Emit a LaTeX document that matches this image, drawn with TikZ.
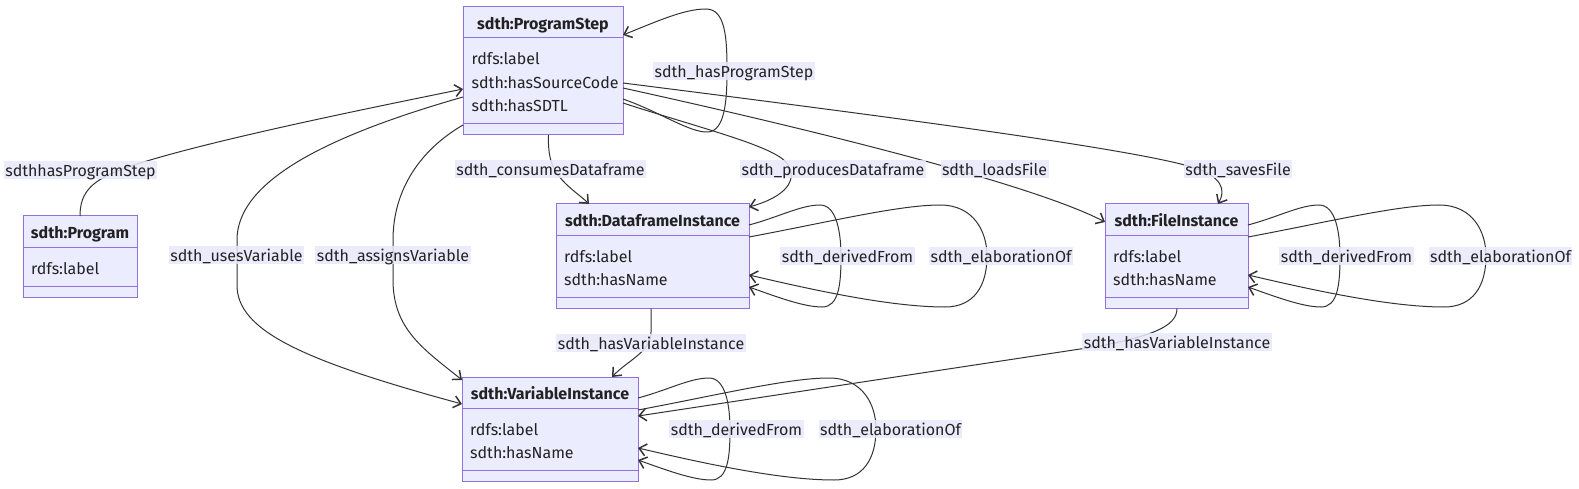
\documentclass[tikz,border=0pt]{standalone}
\usepackage{fontspec}
\setmainfont{Fira Sans}
\usetikzlibrary{arrows.meta,calc}
\definecolor{boxfill}{HTML}{ECECFF}
\definecolor{boxdraw}{HTML}{9370DB}
\definecolor{edgecol}{HTML}{333333}
\definecolor{lblfill}{HTML}{E8E8FC}
\definecolor{txtcol}{HTML}{222222}
\tikzset{
  clsbox/.style={draw=boxdraw, fill=boxfill, line width=1pt, inner sep=0pt, outer sep=0pt, anchor=north west},
  clsline/.style={draw=boxdraw, line width=1pt},
  ttl/.style={anchor=base, inner sep=0pt, font=\fontsize{16}{19}\selectfont\bfseries, text=txtcol},
  att/.style={anchor=base west, inner sep=0pt, text=txtcol},
  lbl/.style={fill=lblfill, fill opacity=0.85, text opacity=1, text=txtcol, inner xsep=1.5pt, inner ysep=0pt, text height=15.5pt, text depth=3pt},
  conn/.style={draw=edgecol, line width=1pt, -{Straight Barb[length=7pt,width=12pt,line width=1.5pt]}},
}
\newcommand{\selfloops}[1]{%
  \begin{scope}[shift={(#1.north east)}]
    \draw[conn] ([yshift=-21pt]#1.north east) .. controls (30,13) and (52,1) .. (71,1)
      .. controls (88,1) and (92,30) .. (92,52)
      .. controls (92,80) and (90,103) .. (73,103)
      .. controls (55,103) and (28,93) .. ([yshift=-83pt]#1.north east);
    \draw[conn] ([yshift=-33pt]#1.north east) .. controls (80,18) and (150,1) .. (191,1)
      .. controls (225,1) and (238,28) .. (238,52)
      .. controls (238,82) and (225,103) .. (196,103)
      .. controls (140,103) and (60,85) .. ([yshift=-71pt]#1.north east);
  \end{scope}}
\begin{document}
\begin{tikzpicture}[x=1pt,y=-1pt,font=\fontsize{16}{19}\selectfont]
\useasboundingbox (0,0) rectangle (1579,489);
% class boxes
\node[clsbox, minimum width=160pt, minimum height=128pt] (ps) at (463,7) {};
\node[clsbox, minimum width=114pt, minimum height=81pt] (prog) at (23,216) {};
\node[clsbox, minimum width=193pt, minimum height=104.5pt] (df) at (556,204) {};
\node[clsbox, minimum width=143pt, minimum height=104.5pt] (fi) at (1105,204) {};
\node[clsbox, minimum width=176pt, minimum height=104.5pt] (vi) at (462,377) {};
\foreach \n/\d in {ps/117, prog/70, df/93.5, fi/93.5, vi/93.5} {
  \draw[clsline] ($(\n.north west)+(0,31)$) -- ($(\n.north east)+(0,31)$);
  \draw[clsline] ($(\n.north west)+(0,\d)$) -- ($(\n.north east)+(0,\d)$);
}
% titles
\node[ttl] (ps-t) at ($(ps.north)+(0,22.5)$) {sdth:ProgramStep};
\node[ttl] (prog-t) at ($(prog.north)+(0,22.5)$) {sdth:Program};
\node[ttl] (df-t) at ($(df.north)+(0,22.5)$) {sdth:DataframeInstance};
\node[ttl] (fi-t) at ($(fi.north)+(0,22.5)$) {sdth:FileInstance};
\node[ttl] (vi-t) at ($(vi.north)+(0,22.5)$) {sdth:VariableInstance};
% attributes
\node[att] (ps-a1) at ($(ps.north west)+(8.5,58)$) {rdfs:label};
\node[att] (ps-a2) at ($(ps.north west)+(8.5,81.5)$) {sdth:hasSourceCode};
\node[att] (ps-a3) at ($(ps.north west)+(8.5,105)$) {sdth:hasSDTL};
\node[att] (prog-a1) at ($(prog.north west)+(8,58)$) {rdfs:label};
\node[att] (df-a1) at ($(df.north west)+(8,58)$) {rdfs:label};
\node[att] (df-a2) at ($(df.north west)+(8,81.5)$) {sdth:hasName};
\node[att] (fi-a1) at ($(fi.north west)+(8,58)$) {rdfs:label};
\node[att] (fi-a2) at ($(fi.north west)+(8,81.5)$) {sdth:hasName};
\node[att] (vi-a1) at ($(vi.north west)+(8,58)$) {rdfs:label};
\node[att] (vi-a2) at ($(vi.north west)+(8,81.5)$) {sdth:hasName};
% connectors
\draw[conn] (prog.north) .. controls (80,192) and (92,180) .. (125,168)
  .. controls (200,142) and (380,106) .. ([yshift=-82pt]ps.north west);
\draw[conn] ([yshift=-92pt]ps.north east) .. controls (660,112) and (690,133) .. (708,132)
  .. controls (725,131) and (727,100) .. (727,71)
  .. controls (727,40) and (726,9) .. (706,9)
  .. controls (685,9) and (660,20) .. ([yshift=-28pt]ps.north east);
\draw[conn] ([xshift=5.5pt]ps.south) .. controls (548,152) and (550,162) .. (556,172)
  .. controls (565,186) and (580,195) .. ([xshift=33pt]df.north west);
\draw[conn] ([yshift=-96pt]ps.north east) .. controls (700,128) and (770,145) .. (786,162)
  .. controls (800,180) and (785,197) .. ([yshift=-3pt]df.north east);
\draw[conn] ([yshift=-81pt]ps.north east) .. controls (850,138) and (1040,188) .. ([yshift=-18pt]fi.north west);
\draw[conn] ([yshift=-76pt]ps.north east) .. controls (900,118) and (1140,150) .. (1195,168)
  .. controls (1222,177) and (1226,190) .. ([xshift=113pt]fi.north west);
\draw[conn] ([yshift=-90pt]ps.north west) .. controls (330,135) and (237,180) .. (237,240)
  -- (237,285) .. controls (237,330) and (300,360) .. ([yshift=-27pt]vi.north west);
\draw[conn] ([yshift=-118pt]ps.north west) .. controls (420,150) and (393,190) .. (393,240)
  -- (393,280) .. controls (393,330) and (425,350) .. ([yshift=-3pt]vi.north west);
\draw[conn] ([xshift=-1.5pt]df.south) -- (651,332) .. controls (651,352) and (628,360) .. ([xshift=150pt]vi.north west);
\draw[conn] ([xshift=0.5pt]fi.south) .. controls (1177,327) and (1150,336) .. (1100,346) -- ([yshift=-39pt]vi.north east);
\selfloops{df}
\selfloops{fi}
\selfloops{vi}
% edge labels
\node[lbl] (l1) at (80.5,170) {sdthhasProgramStep};
\node[lbl] (l2) at (734,71) {sdth\_hasProgramStep};
\node[lbl] (l3) at (550.5,169) {sdth\_consumesDataframe};
\node[lbl] (l4) at (833,169) {sdth\_producesDataframe};
\node[lbl] (l5) at (994.5,169) {sdth\_loadsFile};
\node[lbl] (l6) at (1238,169) {sdth\_savesFile};
\node[lbl] (l7) at (236.5,255) {sdth\_usesVariable};
\node[lbl] (l8) at (393,255) {sdth\_assignsVariable};
\node[lbl] (l9) at (847.5,256) {sdth\_derivedFrom};
\node[lbl] (l10) at (1001,256) {sdth\_elaborationOf};
\node[lbl] (l11) at (1346.5,256) {sdth\_derivedFrom};
\node[lbl] (l12) at (1500.5,256) {sdth\_elaborationOf};
\node[lbl] (l13) at (651,343) {sdth\_hasVariableInstance};
\node[lbl] (l14) at (1177,342) {sdth\_hasVariableInstance};
\node[lbl] (l15) at (736.5,429) {sdth\_derivedFrom};
\node[lbl] (l16) at (890.5,429) {sdth\_elaborationOf};
\end{tikzpicture}
\end{document}
